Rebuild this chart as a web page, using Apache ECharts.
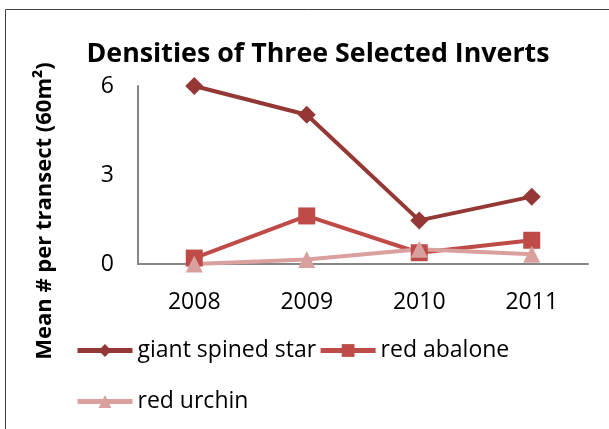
<!DOCTYPE html>
<html>
<head>
<meta charset="utf-8">
<script src="https://cdn.jsdelivr.net/npm/echarts@6/dist/echarts.min.js"></script>
<style>
  html, body { margin: 0; padding: 0; background: #fff; }
  #chart { width: 609px; height: 429px; }
</style>
</head>
<body>
<div id="chart"></div>
<script>
// Survey years and mean densities per 60 m² transect
const years = ['2008', '2009', '2010', '2011'];
const giantSpinedStar = [6.0, 5.03, 1.47, 2.27];
const redAbalone = [0.2, 1.62, 0.38, 0.8];
const redUrchin = [0.0, 0.15, 0.5, 0.33];
const yTicks = { min: 0, max: 6, interval: 3 };

const FONT = '"Open Sans", "Noto Sans", sans-serif';
const LABEL_SIZE = 23;

const chart = echarts.init(document.getElementById('chart'));

function lineSeries(name, data, color, symbol, size) {
  return {
    name: name,
    type: 'line',
    data: data,
    symbol: symbol,
    symbolSize: size,
    lineStyle: { color: color, width: 4 },
    itemStyle: { color: color },
    emphasis: { disabled: true },
    animation: false
  };
}

const legendBase = {
  left: 75,
  padding: 0,
  itemWidth: 55,
  itemHeight: 16,
  itemGap: 2,
  lineStyle: { width: 5 },
  textStyle: { fontFamily: FONT, fontSize: LABEL_SIZE, color: '#000' }
};

chart.setOption({
  backgroundColor: '#fff',
  title: {
    text: 'Densities of Three Selected Inverts',
    left: 313,
    textAlign: 'center',
    top: 36,
    textStyle: { fontFamily: FONT, fontWeight: 'bold', fontSize: 26.8, color: '#000' }
  },
  grid: { left: 138, right: 21, top: 86, bottom: 165 },
  xAxis: {
    type: 'category',
    data: years,
    boundaryGap: true,
    axisLine: { lineStyle: { color: '#868686', width: 2 } },
    axisTick: { show: false },
    axisLabel: { margin: 27, fontFamily: FONT, fontSize: LABEL_SIZE, color: '#000' }
  },
  yAxis: {
    type: 'value',
    min: yTicks.min,
    max: yTicks.max,
    interval: yTicks.interval,
    axisLine: { show: true, lineStyle: { color: '#868686', width: 2 } },
    axisTick: { show: false },
    splitLine: { show: false },
    axisLabel: { margin: 24, fontFamily: FONT, fontSize: LABEL_SIZE, color: '#000' }
  },
  legend: [
    Object.assign({}, legendBase, { data: ['giant spined star', 'red abalone'], top: 339 }),
    Object.assign({}, legendBase, { data: ['red urchin'], top: 390 })
  ],
  graphic: [
    {
      type: 'rect',
      shape: { x: 5.5, y: 9.5, width: 700, height: 500 },
      style: { fill: 'none', stroke: '#404040', lineWidth: 1 },
      silent: true
    },
    {
      type: 'text',
      x: 45,
      y: 211,
      rotation: Math.PI / 2,
      style: {
        text: 'Mean # per transect (60m²)',
        fontFamily: FONT,
        fontWeight: 'bold',
        fontSize: 22,
        fill: '#000',
        align: 'center',
        verticalAlign: 'middle'
      }
    }
  ],
  series: [
    lineSeries('giant spined star', giantSpinedStar, '#953735', 'diamond', 18),
    lineSeries('red abalone', redAbalone, '#BE4B48', 'rect', 17),
    lineSeries('red urchin', redUrchin, '#D9A09E', 'triangle', 17)
  ]
});
</script>
</body>
</html>
